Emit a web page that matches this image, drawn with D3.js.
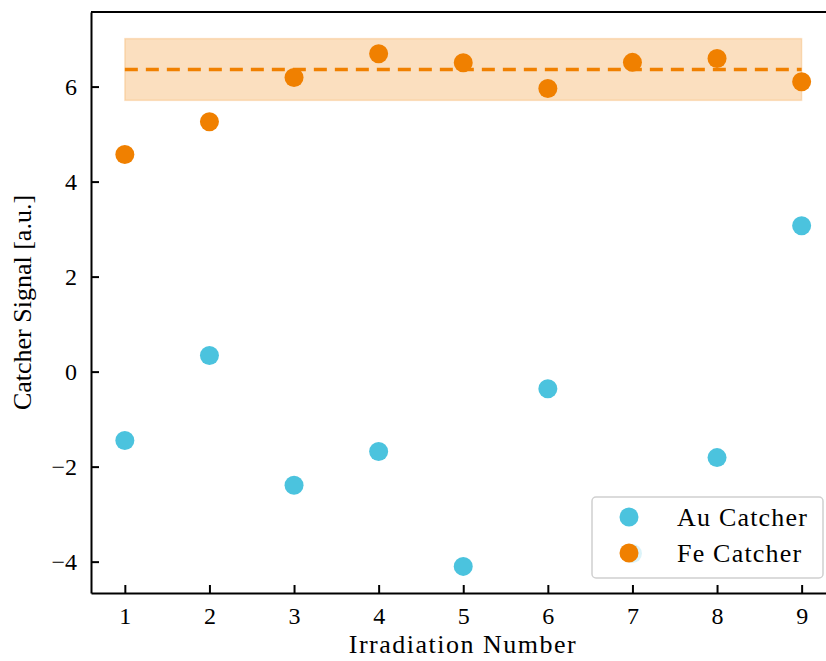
<!DOCTYPE html>
<html>
<head>
<meta charset="utf-8">
<script src="https://cdn.jsdelivr.net/npm/d3@7"></script>
<style>
    body { margin: 0; background: #fff; }
    svg { display: block; font-family: "Liberation Serif", "DejaVu Serif", serif; }
</style>
</head>
<body>
<svg id="chart"></svg>
<script>
// data
var irradiation = [1, 2, 3, 4, 5, 6, 7, 8, 9];
var auSignal = [-1.45, 0.34, -2.39, -1.68, -4.1, -0.36, -3.83, -1.81, 3.07];
var feSignal = [4.57, 5.26, 6.19, 6.69, 6.5, 5.96, 6.51, 6.59, 6.1];
var feMean = 6.36;
var feBand = [5.71, 7.01];
var xTicks = [1, 2, 3, 4, 5, 6, 7, 8, 9];
var yTicks = [-4, -2, 0, 2, 4, 6];
var seriesNames = ["Au Catcher", "Fe Catcher"];
var seriesColors = ["#4bc3de", "#f08000"];

var width = 826;
var height = 661;
var plotLeft = 91, plotTop = 12, plotBottom = 593;

var svg = d3.select("#chart")
    .attr("width", width)
    .attr("height", height);

var x = d3.scaleLinear().domain([0.6, 9.4]).range([plotLeft, plotLeft + 8.8 * 84.6]);
var y = d3.scaleLinear().domain([-4.66, 7.57]).range([plotBottom, plotTop]);

/*****************  Fe band + mean **********************/

svg.append("rect")
    .attr("x", x(1))
    .attr("y", y(feBand[1]))
    .attr("width", x(9) - x(1))
    .attr("height", y(feBand[0]) - y(feBand[1]))
    .style("fill", seriesColors[1])
    .style("fill-opacity", 0.25)
    .style("stroke", seriesColors[1])
    .style("stroke-opacity", 0.2)
    .style("stroke-width", 1.5);

svg.append("line")
    .attr("x1", x(1))
    .attr("x2", x(9))
    .attr("y1", y(feMean))
    .attr("y2", y(feMean))
    .style("stroke", seriesColors[1])
    .style("stroke-width", 3.5)
    .style("stroke-dasharray", "13,8");

/*****************  Points **********************/

var series = [auSignal, feSignal];

series.forEach(function (vals, s) {
    svg.selectAll(".pt" + s)
        .data(vals)
        .enter()
        .append("circle")
        .attr("class", "pt" + s)
        .attr("cx", function (d, i) { return x(irradiation[i]); })
        .attr("cy", function (d) { return y(d); })
        .attr("r", 9.5)
        .style("fill", seriesColors[s]);
});

/*****************  Axes **********************/

var xAxis = d3.axisBottom(x).tickValues(xTicks).tickSizeInner(-8).tickSizeOuter(0).tickPadding(14);
var yAxis = d3.axisLeft(y).tickValues(yTicks).tickSizeInner(-8).tickSizeOuter(0).tickPadding(14)
    .tickFormat(function (d) { return d < 0 ? "\u2212" + Math.abs(d) : d; });

var gx = svg.append("g")
    .attr("transform", "translate(0," + plotBottom + ")")
    .call(xAxis);
var gy = svg.append("g")
    .attr("transform", "translate(" + plotLeft + ",0)")
    .call(yAxis);

[gx, gy].forEach(function (g) {
    g.attr("font-family", null).attr("font-size", null);
    g.select(".domain").style("stroke", "#000").style("stroke-width", 2);
    g.selectAll(".tick line").style("stroke", "#000").style("stroke-width", 2);
    g.selectAll(".tick text")
        .style("font-size", "24px")
        .style("fill", "#000");
});

// top spine
svg.append("line")
    .attr("x1", plotLeft)
    .attr("x2", x(9.4))
    .attr("y1", plotTop)
    .attr("y2", plotTop)
    .style("stroke", "#000")
    .style("stroke-width", 2);

/*****************  Axis labels **********************/

svg.append("text")
    .attr("x", 463)
    .attr("y", 653)
    .attr("text-anchor", "middle")
    .style("font-size", "26px")
    .style("letter-spacing", "1.5px")
    .text("Irradiation Number");

svg.append("text")
    .attr("transform", "translate(31," + ((plotTop + plotBottom) / 2) + ") rotate(-90)")
    .attr("text-anchor", "middle")
    .style("font-size", "26px")
    .text("Catcher Signal [a.u.]");

/*****************  Legend **********************/

var legend = svg.append("g");

legend.append("rect")
    .attr("x", 592)
    .attr("y", 497)
    .attr("width", 231)
    .attr("height", 81)
    .attr("rx", 4)
    .style("fill", "#fff")
    .style("fill-opacity", 0.8)
    .style("stroke", "#d0d0d0")
    .style("stroke-width", 1.5);

legend.selectAll(".legItem")
    .data(seriesNames)
    .enter()
    .append("circle")
    .attr("class", "legItem")
    .attr("cx", 629)
    .attr("cy", function (d, i) { return 517 + i * 36; })
    .attr("r", 9.5)
    .style("fill", function (d, i) { return seriesColors[i]; });

legend.selectAll(".legText")
    .data(seriesNames)
    .enter()
    .append("text")
    .attr("class", "legText")
    .attr("x", 677)
    .attr("y", function (d, i) { return 526 + i * 36; })
    .style("font-size", "26px")
    .style("letter-spacing", "1.2px")
    .text(function (d) { return d; });
</script>
</body>
</html>
